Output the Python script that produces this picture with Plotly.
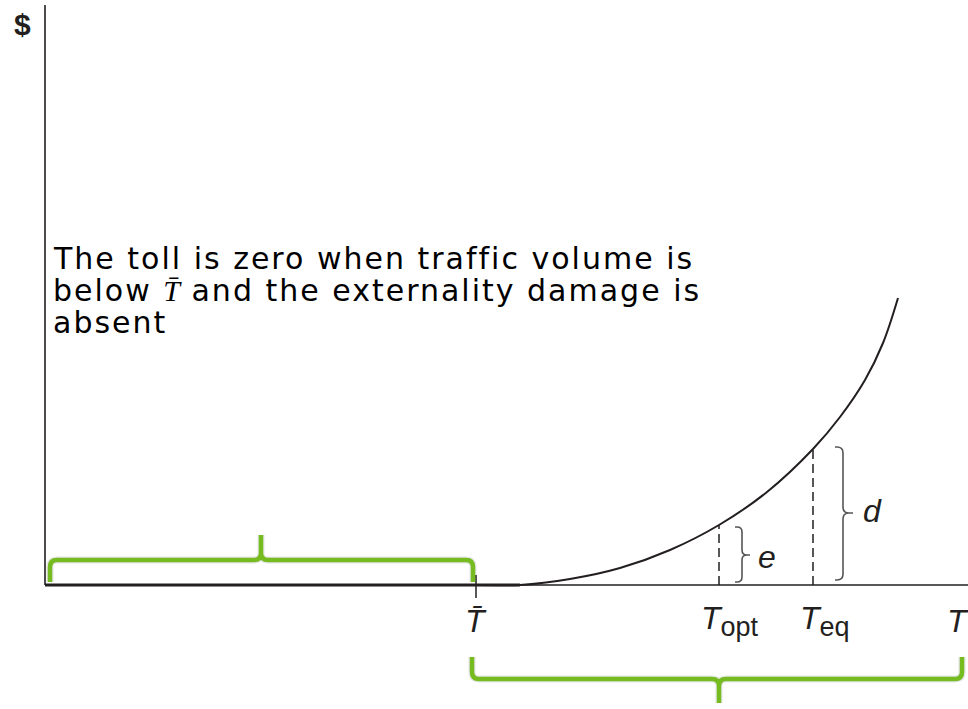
import plotly.graph_objects as go

# toll / externality curve (x = traffic volume, y = $)
curve_x = [0.0, 4.31, 4.75, 5.25, 5.75, 6.25, 6.74, 7.22, 7.68, 7.95, 8.20, 8.38, 8.53]
curve_y = [0.0, 0.0, 0.0, 0.06, 0.17, 0.35, 0.60, 0.93, 1.36, 1.68, 2.05, 2.42, 2.87]

# marked traffic volumes
t_bar = 4.31
t_opt = 6.74
t_eq = 7.68
t_end = 9.23
y_top = 5.80
y_opt = 0.60   # curve height at T_opt
y_eq = 1.36    # curve height at T_eq

tick_labels = ["<i>T\u0304</i>",
               "<i>T</i><sub><span style='font-size:27px'>opt</span></sub>",
               "<i>T</i><sub><span style='font-size:27px'>eq</span></sub>",
               "<i>T</i>"]
tick_pos = [4.31, 6.85, 7.80, 9.13]

note_lines = ["The toll is zero when traffic volume is",
              "below <span style='font-family:Liberation Serif;letter-spacing:0px'><i>T\u0304</i></span> and the externality damage is",
              "absent"]
note_y = [3.27, 2.95, 2.63]

INK = "#231f20"
GREEN = "#76bc21"


def hbrace(x0, x1, y_end, y_bar, xt, y_tip, r):
    s = 1 if y_end > y_bar else -1
    return (f"M {x0},{y_end} L {x0},{y_bar + s*r} Q {x0},{y_bar} {x0 + r},{y_bar} "
            f"L {xt - r},{y_bar} Q {xt},{y_bar} {xt},{y_bar - s*r} L {xt},{y_tip} "
            f"M {xt},{y_bar - s*r} Q {xt},{y_bar} {xt + r},{y_bar} "
            f"L {x1 - r},{y_bar} Q {x1},{y_bar} {x1},{y_bar + s*r} L {x1},{y_end}")


def vbrace(y0, y1, x_end, x_bar, yt, x_tip, r):
    s = 1 if x_end > x_bar else -1
    return (f"M {x_end},{y0} L {x_bar + s*r},{y0} Q {x_bar},{y0} {x_bar},{y0 + r} "
            f"L {x_bar},{yt - r} Q {x_bar},{yt} {x_bar - s*r},{yt} L {x_tip},{yt} "
            f"M {x_bar - s*r},{yt} Q {x_bar},{yt} {x_bar},{yt + r} "
            f"L {x_bar},{y1 - r} Q {x_bar},{y1} {x_bar + s*r},{y1} L {x_end},{y1}")


fig = go.Figure()

# axes
fig.add_trace(go.Scatter(x=[0, 0], y=[0, y_top], mode="lines", line=dict(color=INK, width=1.6), hoverinfo="skip"))
fig.add_trace(go.Scatter(x=[0, t_end], y=[0, 0], mode="lines", line=dict(color=INK, width=1.6), hoverinfo="skip"))

# curve
fig.add_trace(go.Scatter(x=curve_x, y=curve_y, mode="lines",
                         line=dict(color=INK, width=2.0, shape="spline", smoothing=1.0), hoverinfo="skip"))
fig.add_trace(go.Scatter(x=[0, 4.75], y=[0, 0], mode="lines", line=dict(color=INK, width=3), hoverinfo="skip"))

# dashed drop lines
for xv, yv in [(t_opt, y_opt), (t_eq, y_eq)]:
    fig.add_trace(go.Scatter(x=[xv, xv], y=[0, yv], mode="lines",
                             line=dict(color=INK, width=1.5, dash="9px,5px"), hoverinfo="skip"))

# tick at T bar
fig.add_trace(go.Scatter(x=[t_bar, t_bar], y=[-0.13, 0.10], mode="lines", line=dict(color=INK, width=1.5), hoverinfo="skip"))

shapes = []
# green braces with a soft shadow
green_paths = [hbrace(0.05, 4.28, 0.03, 0.25, 2.16, 0.50, 0.07),
               hbrace(4.27, 9.17, -0.72, -0.94, 6.74, -1.18, 0.07)]
for p in green_paths:
    shapes.append(dict(type="path", path=p, xref="x", yref="y", line=dict(color="rgba(0,0,0,0.10)", width=7)))
    shapes.append(dict(type="path", path=p, xref="x", yref="y", line=dict(color=GREEN, width=4.5)))

# e and d braces
shapes.append(dict(type="path", path=vbrace(0.03, 0.58, 6.90, 6.97, 0.30, 7.05, 0.05),
                   xref="x", yref="y", line=dict(color="#555555", width=1.6)))
shapes.append(dict(type="path", path=vbrace(0.05, 1.38, 7.90, 7.98, 0.72, 8.08, 0.06),
                   xref="x", yref="y", line=dict(color="#555555", width=1.6)))

annotations = []
for lab, xp in zip(tick_labels, tick_pos):
    annotations.append(dict(x=xp, y=-0.36, xref="x", yref="y", text=lab, showarrow=False,
                            font=dict(family="Liberation Sans", size=32, color=INK)))
annotations.append(dict(x=7.22, y=0.28, xref="x", yref="y", text="<i>e</i>", showarrow=False,
                        font=dict(family="Liberation Sans", size=32, color=INK)))
annotations.append(dict(x=8.27, y=0.74, xref="x", yref="y", text="<i>d</i>", showarrow=False,
                        font=dict(family="Liberation Sans", size=32, color=INK)))
annotations.append(dict(x=-0.23, y=5.61, xref="x", yref="y", text="<b>$</b>", showarrow=False,
                        font=dict(family="Liberation Sans", size=30, color=INK)))
for line, yv in zip(note_lines, note_y):
    annotations.append(dict(x=0.06, y=yv, xref="x", yref="y",
                            text=f"<span style='letter-spacing:2px'>{line}</span>",
                            showarrow=False, xanchor="left", yanchor="middle", align="left",
                            font=dict(family="DejaVu Sans", size=30, color="#000000")))

fig.update_layout(
    width=968, height=709,
    margin=dict(l=0, r=0, t=0, b=0),
    plot_bgcolor="white", paper_bgcolor="white",
    showlegend=False,
    xaxis=dict(range=[-0.45, 9.23], visible=False, fixedrange=True),
    yaxis=dict(range=[-1.24, 5.85], visible=False, fixedrange=True),
    shapes=shapes,
    annotations=annotations,
)

fig.write_html("out.html", config={"displayModeBar": False},
               post_script="document.body.style.margin='0';")
